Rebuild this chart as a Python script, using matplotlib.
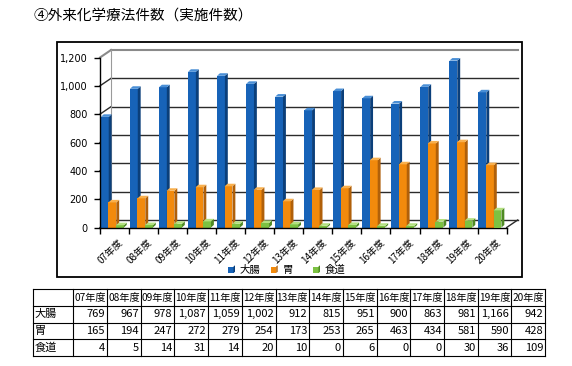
import matplotlib
matplotlib.use("Agg")
import matplotlib.pyplot as plt
from matplotlib.patches import Polygon, Rectangle

plt.rcParams['font.family'] = ['Noto Sans CJK JP', 'DejaVu Sans']

# ---------------------------------------------------------------------------
# Data
# ---------------------------------------------------------------------------
years = ["07年度", "08年度", "09年度", "10年度", "11年度", "12年度", "13年度",
         "14年度", "15年度", "16年度", "17年度", "18年度", "19年度", "20年度"]
series_names = ["大腸", "胃", "食道"]
colon = [769, 967, 978, 1087, 1059, 1002, 912, 815, 951, 900, 863, 981, 1166, 942]
stomach = [165, 194, 247, 272, 279, 254, 173, 253, 265, 463, 434, 581, 590, 428]
esophagus = [4, 5, 14, 31, 14, 20, 10, 0, 6, 0, 0, 30, 36, 109]
y_ticks = [0, 200, 400, 600, 800, 1000, 1200]

# ---------------------------------------------------------------------------
# Style
# ---------------------------------------------------------------------------
W, H = 572, 366
face_cols = ["#1763b8", "#f28a0c", "#7cc242"]
side_cols = ["#0b3f7a", "#b0600a", "#4f8a24"]
top_cols = ["#4a8fd6", "#f9b04d", "#b3e07f"]

DX, DY = 0.38, 53          # wall depth (category units, value units)
LIFT = 12                  # bars stand a little into the depth
SX, SY = 0.10, 18          # bar side / top depth
BAR_OFF = [0.03, 0.29, 0.55]
BAR_W = 0.27


def fx(px):
    return px / W


def fy(py):
    return 1 - py / H


fig = plt.figure(figsize=(W / 100, H / 100), dpi=100)

# canvas axes in pixel coordinates (frame, title, legend, table)
cax = fig.add_axes([0, 0, 1, 1])
cax.set_xlim(0, W)
cax.set_ylim(H, 0)
cax.axis("off")

# ---------------------------------------------------------------------------
# Chart
# ---------------------------------------------------------------------------
n = len(years)
ymax = y_ticks[-1]
ax = fig.add_axes([fx(100), fy(227.5), fx(417.7), 177.5 / H])
ax.set_xlim(0, n + DX)
ax.set_ylim(0, ymax + DY)
ax.patch.set_alpha(0)

for s in ["top", "right"]:
    ax.spines[s].set_visible(False)
ax.spines["left"].set_bounds(0, ymax)
ax.spines["bottom"].set_bounds(0, n)
ax.spines["left"].set_linewidth(1.0)
ax.spines["bottom"].set_linewidth(1.0)
ax.spines["left"].set_zorder(50)
ax.spines["bottom"].set_zorder(50)

ax.set_yticks(y_ticks)
ax.set_yticklabels([f"{v:,}" for v in y_ticks], family="DejaVu Sans", fontsize=7)
ax.tick_params(axis="y", direction="out", length=4, width=1, pad=5)

ax.set_xticks(range(n + 1))
ax.set_xticklabels([""] * (n + 1))
ax.tick_params(axis="x", which="major", direction="out", length=4, width=1)
ax.set_xticks([i + 0.62 for i in range(n)], minor=True)
ax.set_xticklabels(years, minor=True, rotation=45, ha="right",
                   rotation_mode="anchor", fontsize=7)
ax.tick_params(axis="x", which="minor", length=0, pad=7)

# walls and gridlines
for lv in y_ticks:
    col = "#8a8a8a" if lv == ymax else "#2b2b2b"
    lw = 1.5 if lv == ymax else 1.0
    ax.plot([DX, n + DX], [lv + DY, lv + DY], color=col, lw=lw, zorder=1,
            clip_on=False)
    ax.plot([0, DX], [lv, lv + DY], color=col, lw=lw, zorder=1, clip_on=False)
ax.plot([n, n + DX], [0, DY], color="#2b2b2b", lw=1.0, zorder=1, clip_on=False)
ax.plot([DX, DX], [DY, ymax + DY], color="#9a9a9a", lw=0.8, zorder=1,
        clip_on=False)

# 3D-looking bars
values = [colon, stomach, esophagus]
z = 10
for i in range(n):
    for s, vals in enumerate(values):
        x0 = i + BAR_OFF[s]
        x1 = x0 + BAR_W
        top = vals[i] + LIFT
        front = Polygon([(x0, 0), (x1, 0), (x1, top), (x0, top)],
                        closed=True, fc=face_cols[s], ec="none", zorder=z)
        side = Polygon([(x1, 0), (x1 + SX, SY), (x1 + SX, top + SY), (x1, top)],
                       closed=True, fc=side_cols[s], ec="none", zorder=z)
        lid = Polygon([(x0, top), (x1, top), (x1 + SX, top + SY), (x0 + SX, top + SY)],
                      closed=True, fc=top_cols[s], ec="none", zorder=z)
        for p in (front, side, lid):
            p.set_clip_on(False)
            ax.add_patch(p)
        z += 1

# ---------------------------------------------------------------------------
# Frame, title, legend
# ---------------------------------------------------------------------------
cax.add_patch(Rectangle((57.3, 41.7), 465, 235.3, fill=False, ec="black", lw=1.3))
cax.text(33, 16, "④外来化学療法件数（実施件数）", fontsize=10.5, va="center",
         ha="left")

leg_x = [228, 270.7, 313]
for s, name in enumerate(series_names):
    x = leg_x[s]
    cax.add_patch(Rectangle((x, 266.5), 5.5, 6.5, fc=face_cols[s], ec="none"))
    cax.add_patch(Polygon([(x + 5.5, 266.5), (x + 7, 265.3), (x + 7, 271.8),
                           (x + 5.5, 273)], closed=True, fc=side_cols[s],
                          ec="none"))
    cax.text(x + 12, 269.7, name, fontsize=7.5, va="center", ha="left")

# ---------------------------------------------------------------------------
# Table
# ---------------------------------------------------------------------------
col_w = 33.7
x_edges = [33.3] + [73.3 + col_w * k for k in range(n + 1)]
y_edges = [289.3, 306, 322.7, 339.3, 356]
for xe in x_edges:
    cax.plot([xe, xe], [y_edges[0], y_edges[-1]], color="black", lw=0.8)
for ye in y_edges:
    cax.plot([x_edges[0], x_edges[-1]], [ye, ye], color="black", lw=0.8)

for k, yr in enumerate(years):
    xc = (x_edges[k + 1] + x_edges[k + 2]) / 2
    cax.text(xc, (y_edges[0] + y_edges[1]) / 2, yr, fontsize=7.3,
             ha="center", va="center")

for r, (name, vals) in enumerate(zip(series_names, values)):
    yc = (y_edges[r + 1] + y_edges[r + 2]) / 2
    cax.text(x_edges[0] + 1.5, yc, name, fontsize=8, ha="left", va="center")
    for k, v in enumerate(vals):
        cax.text(x_edges[k + 2] - 2, yc, f"{v:,}", fontsize=8, ha="right",
                 va="center")

fig.savefig("out.png", dpi=100)
